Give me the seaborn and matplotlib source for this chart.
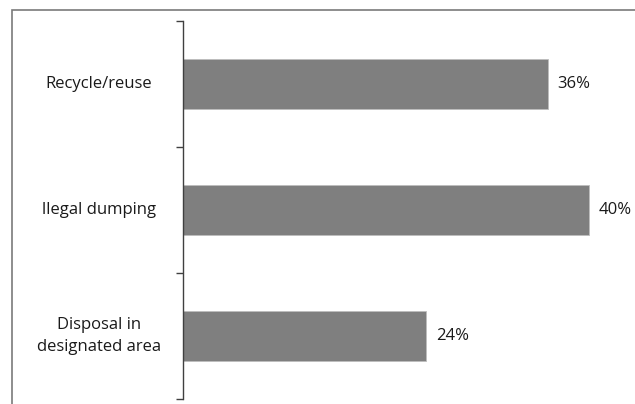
import matplotlib
matplotlib.use("Agg")
import matplotlib.pyplot as plt
import seaborn as sns
import pandas as pd
from matplotlib.patches import Rectangle

categories = ["Recycle/reuse", "llegal dumping", "Disposal in\ndesignated area"]
values = [36, 40, 24]
value_labels = ["36%", "40%", "24%"]

sns.set_theme(style="white")
plt.rcParams['font.family'] = ['Open Sans', 'DejaVu Sans']

df = pd.DataFrame({"category": categories, "value": values})

fig = plt.figure(figsize=(6.35, 4.04), dpi=100)
W, H = 635, 404
ax = fig.add_axes([183 / W, (H - 399) / H, (W - 183) / W, (399 - 21) / H])

sns.barplot(data=df, x="value", y="category", orient="h", color="#7f7f7f",
            saturation=1, width=0.4, edgecolor="#bdbdbd", linewidth=0.6, ax=ax)

ax.set_xlim(0, (W - 183) / 10.14)
ax.set_ylim(2.5, -0.5)
ax.set_xlabel("")
ax.set_ylabel("")
ax.set_xticks([])

for side in ["top", "right", "bottom"]:
    ax.spines[side].set_visible(False)
ax.spines["left"].set_color("#404040")
ax.spines["left"].set_linewidth(1.0)

ax.set_yticks(range(len(categories)))
ax.set_yticklabels([])
ax.tick_params(axis="y", which="major", length=0)
ax.set_yticks([-0.5, 0.5, 1.5, 2.5], minor=True)
ax.tick_params(axis="y", which="minor", length=5, width=1, color="#404040", direction="out", left=True)

for i, cat in enumerate(categories):
    ax.text(-0.186, i, cat, transform=ax.get_yaxis_transform(), ha="center", va="center",
            fontsize=12, color="#1a1a1a", linespacing=1.45)

for i, (v, lab) in enumerate(zip(values, value_labels)):
    ax.text(v + 0.95, i, lab, ha="left", va="center", fontsize=12, color="#1a1a1a")

fig.patches.append(Rectangle((12 / W, -0.05), 1.0, (H - 10) / H + 0.05,
                             transform=fig.transFigure, fill=False,
                             edgecolor="#7a7a7a", linewidth=1.2, zorder=0))

fig.savefig("out.png", dpi=100)
